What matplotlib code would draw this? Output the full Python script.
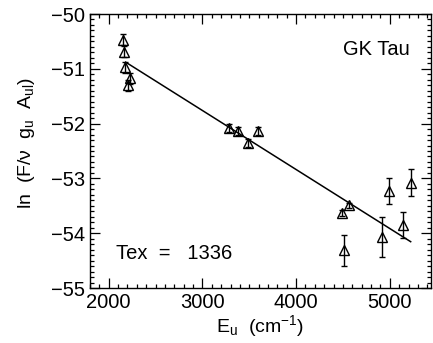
import matplotlib
matplotlib.use("Agg")
import matplotlib.pyplot as plt
import numpy as np
from matplotlib.ticker import MultipleLocator

plt.rcParams['font.family'] = ['Liberation Sans', 'DejaVu Sans']
plt.rcParams['mathtext.fontset'] = 'custom'
plt.rcParams['mathtext.rm'] = 'Liberation Sans'
plt.rcParams['mathtext.it'] = 'Liberation Sans'

# upper level energies (cm^-1) and ln(F / nu g_u A_ul)
energy = [2150, 2160, 2172, 2223, 2202,
          3287, 3383, 3489, 3596,
          4489, 4564, 4511, 4915, 4989, 5138, 5223]
ln_flux = [-50.47, -50.69, -50.97, -51.17, -51.30,
           -52.08, -52.13, -52.35, -52.13,
           -53.63, -53.49, -54.31, -54.07, -53.23, -53.85, -53.08]
ln_err = [0.10, 0.10, 0.10, 0.10, 0.10,
          0.07, 0.07, 0.07, 0.07,
          0.05, 0.05, 0.28, 0.37, 0.24, 0.24, 0.25]

# linear fit: ln = b - 1.4388 E / Tex
tex = 1336
fit_b = -48.53
fit_x = [2180, 5223]

fig = plt.figure(figsize=(4.33, 3.43), dpi=100)
ax = fig.add_axes([90/433, 1 - 288/343, 341/433, 274/343])

ax.errorbar(energy, ln_flux, yerr=ln_err, fmt='^', mfc='none', mec='black',
            ecolor='black', ms=7, mew=1.0, elinewidth=1.0, capsize=2.5, capthick=1.0)
fx = np.array(fit_x)
ax.plot(fx, fit_b - 1.4388 * fx / tex, color='black', lw=1.1)

ax.set_xlim(1800, 5440)
ax.set_ylim(-55, -50)
ax.xaxis.set_major_locator(MultipleLocator(1000))
ax.xaxis.set_minor_locator(MultipleLocator(100))
ax.yaxis.set_major_locator(MultipleLocator(1))
ax.yaxis.set_minor_locator(MultipleLocator(0.1))
ax.tick_params(which='both', direction='in', top=True, right=True, labelsize=14.5, width=0.9)
ax.tick_params(which='major', length=7)
ax.tick_params(which='minor', length=3)
for s in ax.spines.values():
    s.set_linewidth(1.0)

ax.text(0.84, 0.87, 'GK Tau', transform=ax.transAxes, fontsize=14.5, ha='center', va='center')
ax.text(0.075, 0.125, 'Tex  =   %d' % tex, transform=ax.transAxes, fontsize=14.5, ha='left', va='center')

ax.set_xlabel(r'E$_{\rm u}$  (cm$^{-1}$)', fontsize=14, labelpad=1)
ax.set_ylabel(r'ln  (F/$\nu$  g$_{\rm u}$  A$_{\rm ul}$)', fontsize=14)
ax.yaxis.set_label_coords(-0.155, 0.53)

fig.savefig('out.png', dpi=100)
